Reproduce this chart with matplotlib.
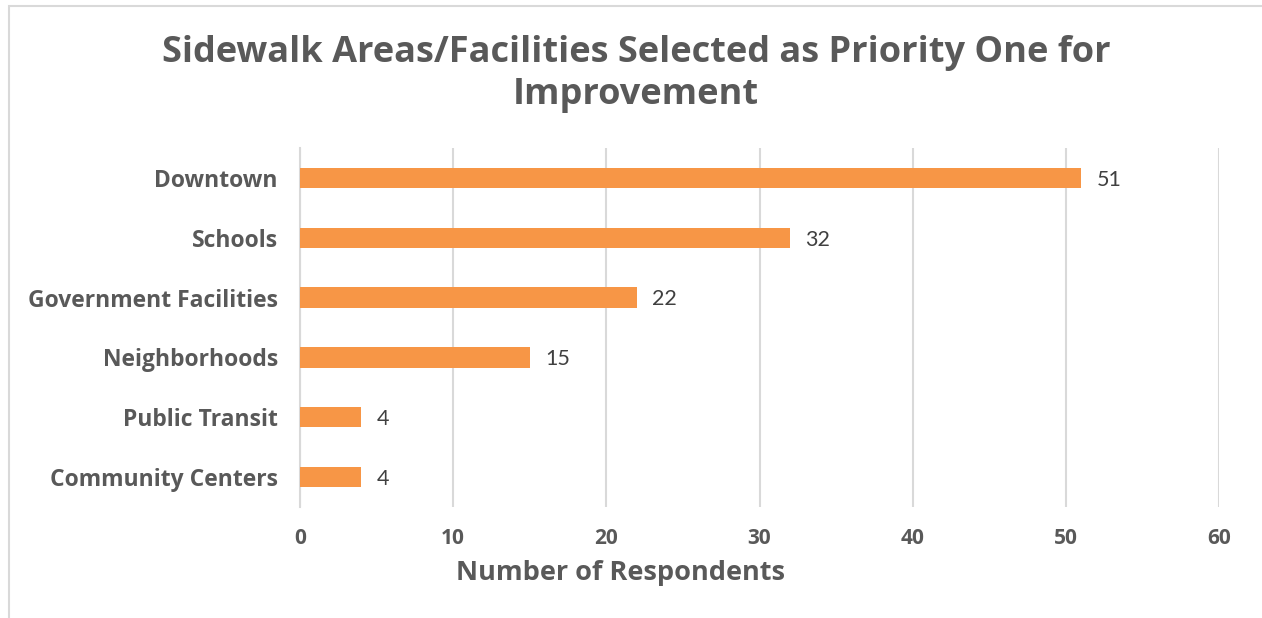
import matplotlib
matplotlib.use("Agg")
import matplotlib.pyplot as plt
from matplotlib.patches import Rectangle

categories = ["Downtown", "Schools", "Government Facilities", "Neighborhoods",
              "Public Transit", "Community Centers"]
values = [51, 32, 22, 15, 4, 4]
xticks = [0, 10, 20, 30, 40, 50, 60]

W, H = 1262, 618
fig = plt.figure(figsize=(W / 100, H / 100), dpi=100)
fig.patch.set_facecolor("white")

BOLD = "Open Sans"

# outer chart border
fig.add_artist(Rectangle((9 / W, -0.1), 1.2, (H - 6) / H + 0.1, transform=fig.transFigure,
                         fill=False, edgecolor="#d9d9d9", linewidth=1.5))

left, right = 300 / W, 1219 / W
top, bottom = 1 - 148 / H, 1 - 507 / H
ax = fig.add_axes([left, bottom, right - left, top - bottom])

y = list(range(len(categories)))
ax.barh(y, values, height=0.34, color="#f79646", zorder=3)
ax.set_ylim(len(categories) - 0.5, -0.5)
ax.set_xlim(0, 60)
ax.set_xticks(xticks)
ax.set_xticklabels([str(t) for t in xticks], fontfamily=BOLD, fontweight="bold",
                   fontsize=15, color="#595959")
ax.set_yticks(y)
ax.set_yticklabels(categories, fontfamily=BOLD, fontweight="bold", fontsize=16.5,
                   color="#595959")
ax.tick_params(axis="x", length=0, pad=15)
ax.tick_params(axis="y", length=0, pad=16)
ax.grid(axis="x", color="#d9d9d9", linewidth=1.5, zorder=0)
for s in ["top", "right", "bottom"]:
    ax.spines[s].set_visible(False)
ax.spines["left"].set_color("#d9d9d9")
ax.spines["left"].set_linewidth(1.5)

for yi, v in zip(y, values):
    ax.text(v + 1.0, yi + 0.03, str(v), va="center", ha="left", fontfamily="Lato",
            fontsize=15.5, color="#404040")

fig.text(620 / W, 1 - 573 / H, "Number of Respondents", ha="center", va="center",
         fontfamily=BOLD, fontweight="bold", fontsize=19.5, color="#595959")

fig.text(636 / W, 1 - 74 / H, "Sidewalk Areas/Facilities Selected as Priority One for\nImprovement",
         ha="center", va="center", fontfamily=BOLD, fontweight="bold", fontsize=26,
         color="#595959", linespacing=1.2)

fig.savefig("out.png", dpi=100)
